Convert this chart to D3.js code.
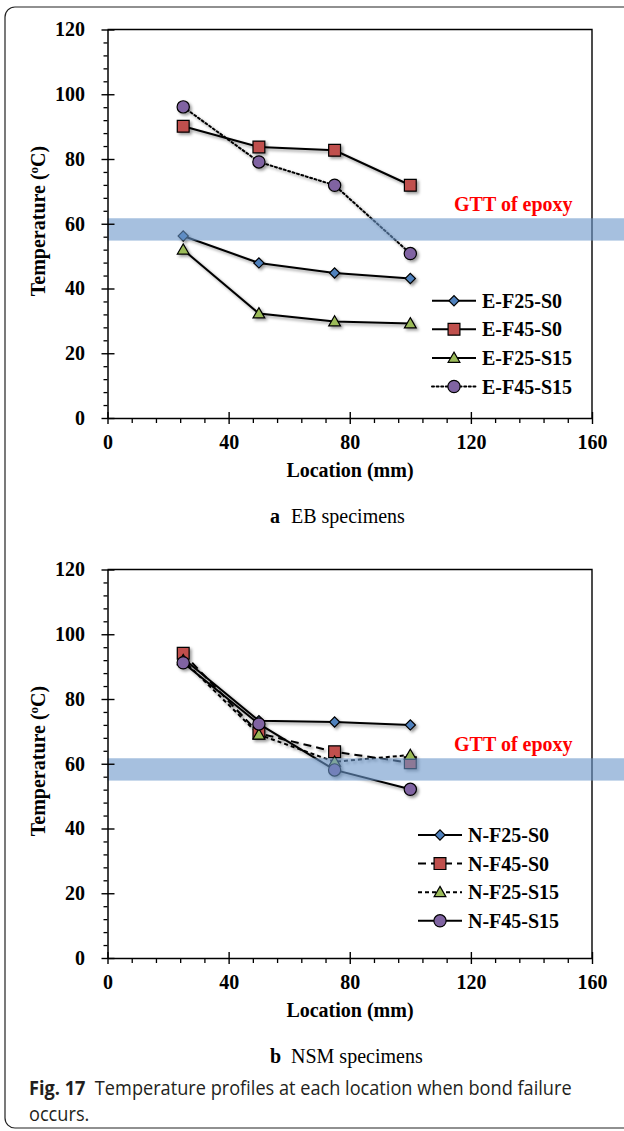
<!DOCTYPE html>
<html><head><meta charset="utf-8">
<script src="https://cdn.jsdelivr.net/npm/d3@7"></script>
<style>body{margin:0;background:#fff}</style>
</head><body>
<svg id="c" width="624" height="1131"></svg>
<script>
// ---------- data ----------
const locations = [25, 50, 75, 100];
const xTicks = [0, 40, 80, 120, 160];
const yTicks = [0, 20, 40, 60, 80, 100, 120];
const gttRange = [54.8, 61.7];
const gttLabel = "GTT of epoxy";

const ebNames = ["E-F25-S0", "E-F45-S0", "E-F25-S15", "E-F45-S15"];
const ebF25S0  = [56.2, 47.9, 44.8, 43.1];
const ebF45S0  = [90.1, 83.7, 82.7, 71.9];
const ebF25S15 = [52.0, 32.3, 29.8, 29.2];
const ebF45S15 = [96.1, 79.1, 71.9, 50.8];

const nsmNames = ["N-F25-S0", "N-F45-S0", "N-F25-S15", "N-F45-S15"];
const nsmF25S0  = [92.5, 73.3, 72.9, 72.0];
const nsmF45S0  = [94.1, 69.4, 63.7, 60.3];
const nsmF25S15 = [92.0, 69.0, 60.6, 62.7];
const nsmF45S15 = [91.2, 72.3, 58.1, 52.1];

// ---------- styles ----------
const markerFill = ["#4f81bd", "#c0504d", "#9bbb59", "#8064a2"];
const markerKind = ["diamond", "square", "triangle", "circle"];
const ebDash  = [null, null, null, "2,2.6"];
const nsmDash = [null, "8,5", "4,3", null];
const serif = "'Liberation Serif','Times New Roman',serif";

const svg = d3.select("#c");
const defs = svg.append("defs");
const f = defs.append("filter").attr("id","sh").attr("x","-50%").attr("y","-50%").attr("width","200%").attr("height","200%");
f.append("feDropShadow").attr("dx",2).attr("dy",2).attr("stdDeviation",1.4)
  .attr("flood-color","#000").attr("flood-opacity",0.4);

// frame
svg.append("rect").attr("x",5).attr("y",7).attr("width",700).attr("height",1121)
  .attr("rx",10).attr("fill","none").attr("stroke","#222").attr("stroke-width",1.2);

function symPath(kind){
  if(kind==="diamond") return d3.symbol(d3.symbolSquare, 52)();
  if(kind==="square") return d3.symbol(d3.symbolSquare, 140)();
  if(kind==="triangle") return d3.symbol(d3.symbolTriangle, 60)();
  return d3.symbol(d3.symbolCircle, 118)();
}
function drawMarker(sel, kind, fill, cx, cy){
  sel.append("path").attr("d", symPath(kind))
    .attr("transform", `translate(${cx},${cy})` + (kind==="diamond" ? " rotate(45)" : (kind==="triangle" ? " translate(0,1)" : "")))
    .attr("fill", fill).attr("stroke","#000").attr("stroke-width",1.2);
}

function panel(off, names, values, dashes, legX, legY0, subBold, subText){
  const x = d3.scaleLinear().domain([0,160]).range([107.5, 592]);
  const y = d3.scaleLinear().domain([0,120]).range([418+off, 29.5+off]);
  const g = svg.append("g");

  // plot box top/right
  g.append("path").attr("d", `M${x(0)},${y(120)}H${x(160)}V${y(0)}`)
    .attr("fill","none").attr("stroke","#000").attr("stroke-width",1.4);

  // series
  const sg = g.append("g").attr("filter","url(#sh)");
  const line = d3.line().x((d,i)=>x(locations[i])).y(d=>y(d));
  values.forEach((vals,k)=>{
    sg.append("path").attr("d", line(vals)).attr("fill","none")
      .attr("stroke","#000").attr("stroke-width",2)
      .attr("stroke-dasharray", dashes[k]).attr("stroke-linecap", dashes[k]&&dashes[k].startsWith("2")?"round":"butt");
  });
  values.forEach((vals,k)=>{
    vals.forEach((v,i)=> drawMarker(sg, markerKind[k], markerFill[k], x(locations[i]), y(v)));
  });

  // GTT band
  g.append("rect").attr("x", x(0)).attr("width", 624 - x(0))
    .attr("y", y(gttRange[1])).attr("height", y(gttRange[0]) - y(gttRange[1]))
    .attr("fill","#6b96ca").attr("fill-opacity",0.6);
  g.append("text").attr("x",454).attr("y",210.7+off).text(gttLabel)
    .attr("font-family",serif).attr("font-weight","bold").attr("font-size",20).attr("fill","#ff0000")
    .attr("xml:space","preserve");

  // axes
  const ax = g.append("g").attr("font-family",serif);
  const yMinor = d3.axisLeft(y).tickValues(d3.range(0,121,4).filter(v=>v%20)).tickSize(4).tickFormat("");
  ax.append("g").attr("transform",`translate(${x(0)},0)`).call(yMinor)
    .call(a=>a.select(".domain").remove())
    .call(a=>a.selectAll("line").attr("stroke-width",1.3));
  const xMinor = d3.axisBottom(x).tickValues(d3.range(0,161,8).filter(v=>v%40)).tickSize(5).tickFormat("");
  ax.append("g").attr("transform",`translate(0,${y(0)})`).call(xMinor)
    .call(a=>a.select(".domain").remove())
    .call(a=>a.selectAll("line").attr("stroke-width",1.3));

  const yAxis = d3.axisLeft(y).tickValues(yTicks).tickSizeInner(6).tickSizeOuter(0).tickPadding(16.5);
  ax.append("g").attr("transform",`translate(${x(0)},0)`).call(yAxis)
    .call(a=>a.selectAll(".tick line").attr("x1",7).attr("stroke-width",1.4))
    .call(a=>a.select(".domain").attr("stroke-width",1.5))
    .call(a=>a.selectAll("text").attr("font-size",20).attr("font-weight","bold").attr("font-family",serif).attr("fill","#000"));
  const xAxis = d3.axisBottom(x).tickValues(xTicks).tickSizeInner(6).tickSizeOuter(0);
  ax.append("g").attr("transform",`translate(0,${y(0)})`).call(xAxis)
    .call(a=>a.selectAll(".tick line").attr("y1",-6).attr("stroke-width",1.4))
    .call(a=>a.select(".domain").attr("stroke-width",1.5))
    .call(a=>a.selectAll("text").attr("y",31).attr("dy",0).attr("font-size",20).attr("font-weight","bold").attr("font-family",serif).attr("fill","#000"));

  // axis titles
  const yt = g.append("text").attr("transform",`translate(45,${221+off}) rotate(-90)`)
    .attr("text-anchor","middle").attr("font-family",serif).attr("font-weight","bold").attr("font-size",20);
  yt.append("tspan").text("Temperature (");
  yt.append("tspan").text("o").attr("font-size",13).attr("baseline-shift","super");
  yt.append("tspan").text("C)");
  g.append("text").attr("x",350).attr("y",477+off).attr("text-anchor","middle")
    .attr("font-family",serif).attr("font-weight","bold").attr("font-size",20).text("Location (mm)");

  // legend
  const lg = g.append("g");
  names.forEach((n,k)=>{
    const ly = legY0 + k*28.6;
    lg.append("line").attr("x1",legX).attr("x2",legX+44).attr("y1",ly).attr("y2",ly)
      .attr("stroke","#000").attr("stroke-width",2).attr("stroke-dasharray",dashes[k])
      .attr("stroke-linecap", dashes[k]&&dashes[k].startsWith("2")?"round":"butt");
    drawMarker(lg, markerKind[k], markerFill[k], legX+22, ly);
    lg.append("text").attr("x",legX+50).attr("y",ly+7).text(n)
      .attr("font-family",serif).attr("font-weight","bold").attr("font-size",20);
  });

  // sub caption
  const st = g.append("text").attr("y",523+off).attr("font-family",serif).attr("font-size",20);
  st.append("tspan").attr("x",270).attr("font-weight","bold").text(subBold);
  st.append("tspan").attr("x",291).text(subText);
}

panel(0, ebNames, [ebF25S0, ebF45S0, ebF25S15, ebF45S15], ebDash, 432, 300.7, "a", "EB specimens");
panel(540, nsmNames, [nsmF25S0, nsmF45S0, nsmF25S15, nsmF45S15], nsmDash, 418, 835, "b", "NSM specimens");

// figure caption
const cap = svg.append("g").attr("font-family","'Open Sans','Noto Sans',sans-serif").attr("font-size",20).attr("fill","#231f20");
const c1 = cap.append("text").attr("x",29).attr("y",1095).attr("xml:space","preserve");
c1.append("tspan").attr("font-weight","bold").text("Fig. 17");
c1.append("tspan").text("  Temperature profiles at each location when bond failure");
cap.append("text").attr("x",29).attr("y",1121).text("occurs.");
const w1 = c1.node().getComputedTextLength();
const sx = 543 / w1;
cap.attr("transform",`translate(29,0) scale(${sx},1) translate(-29,0)`);
</script>
</body></html>
